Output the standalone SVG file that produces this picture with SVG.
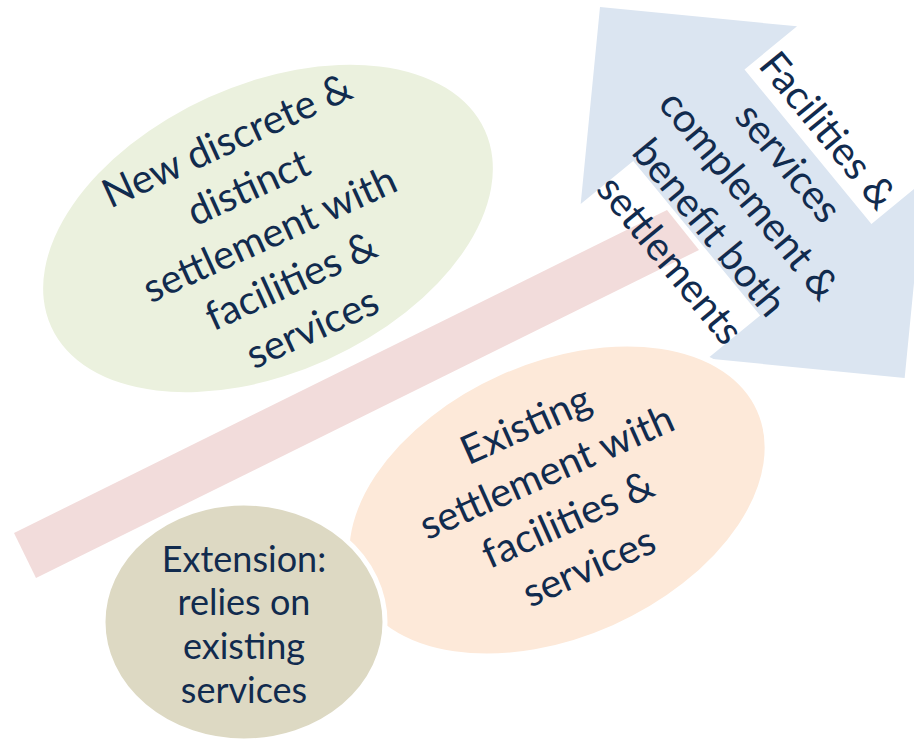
<svg xmlns="http://www.w3.org/2000/svg" width="914" height="742" viewBox="0 0 914 742">
<style>
.t{font-family:Lato,"Open Sans","Liberation Sans",sans-serif;fill:#112B4E;text-anchor:middle}
.big{font-size:40px}
.mid{font-size:36px}
</style>
<rect width="914" height="742" fill="#ffffff"/>
<g id="band">
<polygon points="14,533 667,210 699,250 36,578" fill="#F2DCDB"/>
</g>
<g id="new-settlement">
<ellipse cx="268" cy="228.5" rx="238" ry="144" transform="rotate(-24.3 268 228.5)" fill="#EBF1DE"/>
<g transform="translate(270.7,236.7) rotate(-24.5)" class="t big">
<text x="0" y="-92">New discrete &amp;</text>
<text x="0" y="-40.5">distinct</text>
<text x="0" y="11">settlement with</text>
<text x="0" y="62.5">facilities &amp;</text>
<text x="0" y="114">services</text>
</g>
</g>
<g id="arrow" transform="translate(600,7) rotate(50.6)">
<polygon points="0,0 140,-140 140,-72 340,-72 340,-140 480,0 340,140 340,72 140,72 140,140" fill="#DBE5F1"/>
</g>
<g id="existing-settlement">
<ellipse cx="557" cy="500" rx="222" ry="140" transform="rotate(-24 557 500)" fill="#FDE9D9" stroke="#ffffff" stroke-width="6"/>
<g transform="translate(558.3,498.3) rotate(-24)" class="t big">
<text x="0" y="-66.7">Existing</text>
<text x="0" y="-14.9">settlement with</text>
<text x="0" y="36.9">facilities &amp;</text>
<text x="0" y="88.7">services</text>
</g>
</g>
<g id="extension">
<ellipse cx="244" cy="622" rx="141" ry="119" fill="#DDD9C3" stroke="#ffffff" stroke-width="5"/>
<g class="t mid">
<text x="244" y="571.7">Extension:</text>
<text x="244" y="615">relies on</text>
<text x="244" y="658.5">existing</text>
<text x="244" y="703">services</text>
</g>
</g>
<g id="arrow-label" transform="translate(600,7) rotate(50.6)" class="t big">
<text x="240" y="-84">Facilities &amp;</text>
<text x="240" y="-33">services</text>
<text x="240" y="18">complement &amp;</text>
<text x="240" y="69">benefit both</text>
<text x="240" y="120">settlements</text>
</g>
</svg>
